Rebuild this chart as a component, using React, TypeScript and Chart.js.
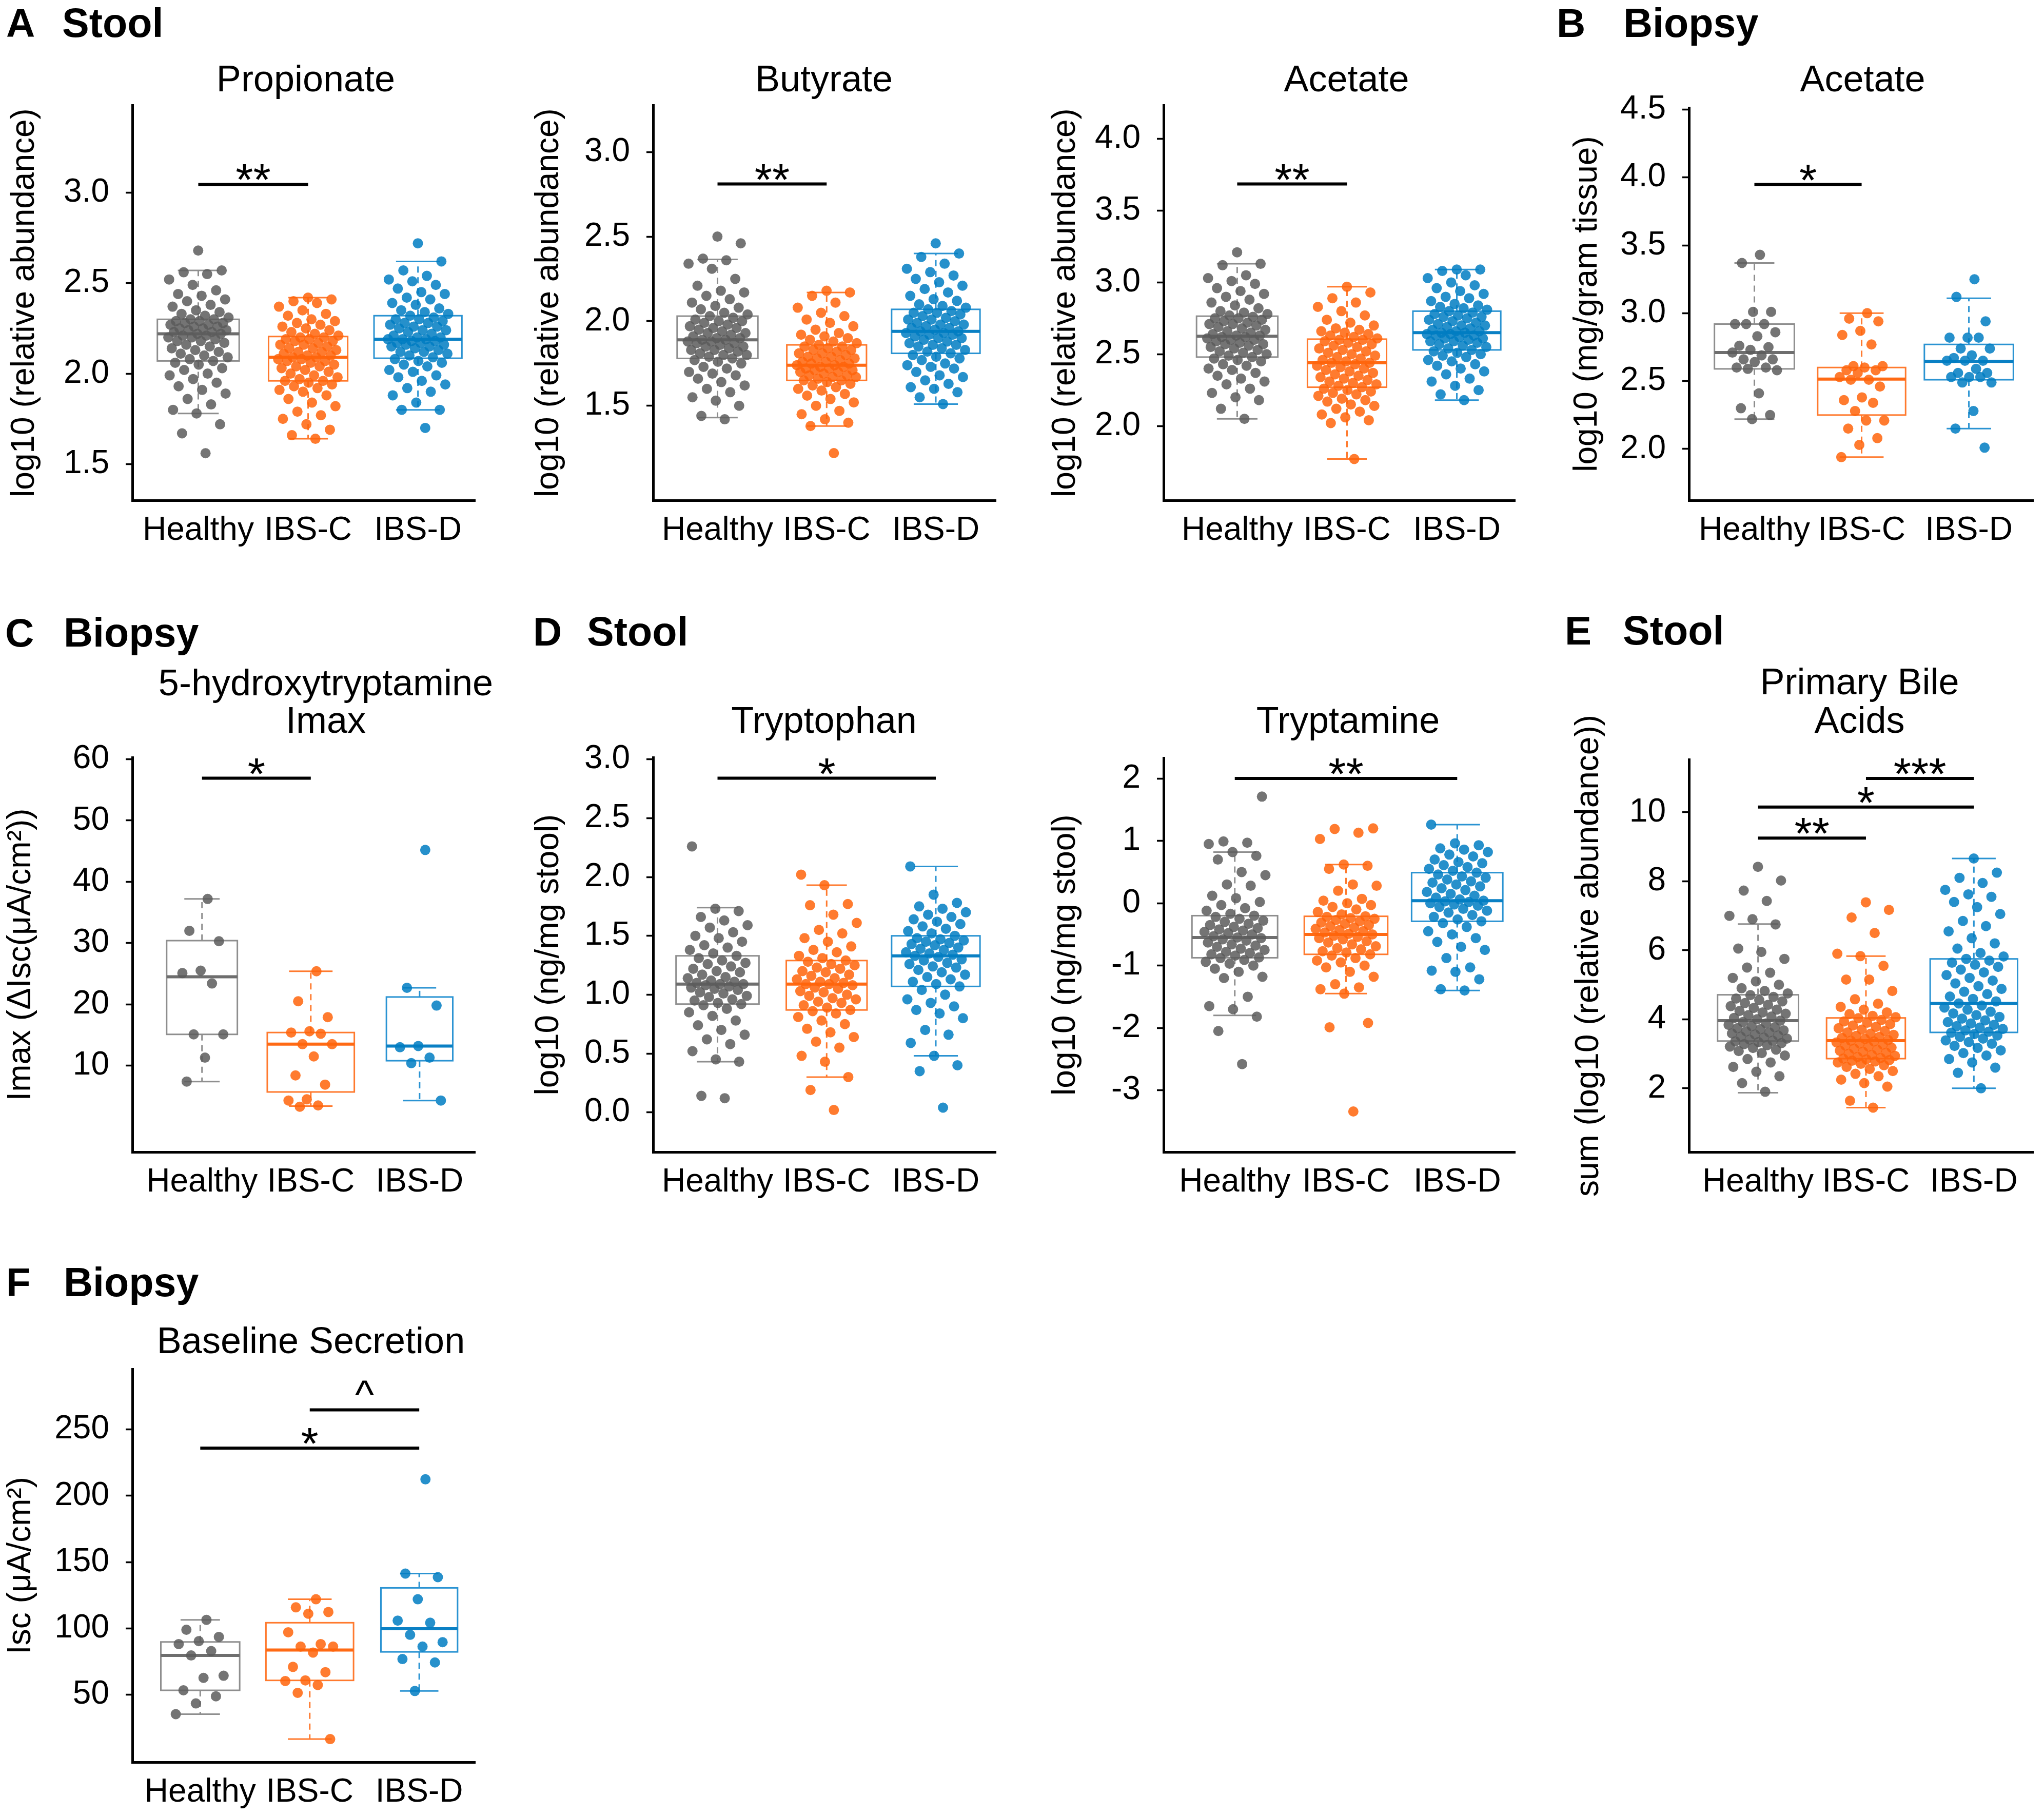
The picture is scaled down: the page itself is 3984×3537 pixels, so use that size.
import React, { useEffect, useRef } from 'react';
import { Chart, registerables } from 'chart.js';

Chart.register(...registerables);

const FONT = '"Liberation Sans", Arial, Helvetica, sans-serif';
Chart.defaults.font.family = FONT;
Chart.defaults.color = '#000';

// ---------------- DATA ----------------
const GROUPS = ['Healthy', 'IBS-C', 'IBS-D'];

// A: Propionate (stool)
const propH = [1.56, 1.67, 1.72, 1.78, 1.80, 1.83, 1.86, 1.89, 1.91, 1.93, 1.95, 1.97, 1.99, 2.00, 2.02, 2.03, 2.05, 2.06,
  2.07, 2.08, 2.09, 2.10, 2.11, 2.12, 2.13, 2.14, 2.15, 2.16, 2.17, 2.18, 2.18, 2.19, 2.20, 2.20, 2.21, 2.21, 2.22, 2.22, 2.23, 2.23, 2.24, 2.24, 2.25, 2.25, 2.26, 2.26, 2.27, 2.27, 2.28, 2.28, 2.29, 2.29, 2.30, 2.30,
  2.31, 2.32, 2.33, 2.34, 2.35, 2.37, 2.38, 2.40, 2.41, 2.43, 2.44, 2.46, 2.49, 2.52, 2.55, 2.56, 2.57, 2.68];
const propC = [1.64, 1.66, 1.69, 1.72, 1.75, 1.77, 1.79, 1.82, 1.84, 1.86, 1.88, 1.90, 1.91, 1.92, 1.93, 1.94, 1.95, 1.96,
  1.96, 1.97, 1.98, 1.99, 2.00, 2.01, 2.02, 2.03, 2.04, 2.04, 2.05, 2.06, 2.07, 2.07, 2.08, 2.08, 2.09, 2.09, 2.10, 2.10, 2.11, 2.12, 2.12, 2.13, 2.14, 2.14, 2.15, 2.16, 2.16, 2.17, 2.18, 2.18, 2.19, 2.19, 2.20, 2.20,
  2.21, 2.22, 2.23, 2.24, 2.25, 2.26, 2.27, 2.28, 2.29, 2.30, 2.32, 2.33, 2.35, 2.37, 2.39, 2.40, 2.41, 2.42];
const propD = [1.70, 1.80, 1.80, 1.84, 1.88, 1.90, 1.92, 1.94, 1.96, 1.98, 1.99, 2.01, 2.02, 2.04, 2.05, 2.06, 2.07, 2.08,
  2.09, 2.10, 2.11, 2.12, 2.12, 2.13, 2.14, 2.15, 2.15, 2.16, 2.16, 2.17, 2.17, 2.18, 2.18, 2.19, 2.19, 2.19, 2.20, 2.20, 2.21, 2.22, 2.23, 2.24, 2.24, 2.25, 2.26, 2.26, 2.27, 2.28, 2.28, 2.29, 2.30, 2.30, 2.31, 2.32,
  2.33, 2.34, 2.35, 2.36, 2.38, 2.39, 2.41, 2.42, 2.44, 2.45, 2.47, 2.49, 2.51, 2.52, 2.54, 2.57, 2.62, 2.72];
const propStats = [[1.78, 2.07, 2.22, 2.30, 2.57], [1.64, 1.96, 2.09, 2.205, 2.42], [1.80, 2.085, 2.19, 2.32, 2.62]];
const propTicks = [1.5, 2.0, 2.5, 3.0];
const propTickLabels = ['1.5', '2.0', '2.5', '3.0'];
const propSig = [[1, 2, 3.045, '**']];

// A: Butyrate (stool)
const butH = [1.42, 1.44, 1.50, 1.53, 1.55, 1.58, 1.60, 1.62, 1.64, 1.66, 1.68, 1.69, 1.70, 1.72, 1.73, 1.75, 1.76, 1.77,
  1.78, 1.79, 1.80, 1.80, 1.81, 1.82, 1.83, 1.83, 1.84, 1.85, 1.85, 1.86, 1.87, 1.87, 1.88, 1.88, 1.89, 1.89, 1.90, 1.90, 1.91, 1.92, 1.93, 1.93, 1.94, 1.95, 1.96, 1.96, 1.97, 1.98, 1.99, 2.00, 2.00, 2.01, 2.02, 2.03,
  2.04, 2.05, 2.07, 2.08, 2.09, 2.11, 2.13, 2.15, 2.17, 2.18, 2.21, 2.25, 2.31, 2.34, 2.36, 2.37, 2.46, 2.50];
const butC = [1.22, 1.38, 1.40, 1.42, 1.45, 1.47, 1.50, 1.52, 1.54, 1.56, 1.57, 1.59, 1.60, 1.61, 1.62, 1.63, 1.64, 1.65,
  1.65, 1.66, 1.67, 1.67, 1.68, 1.68, 1.69, 1.70, 1.70, 1.71, 1.71, 1.72, 1.72, 1.73, 1.73, 1.74, 1.74, 1.75, 1.75, 1.76, 1.76, 1.77, 1.78, 1.78, 1.79, 1.79, 1.80, 1.81, 1.81, 1.82, 1.83, 1.83, 1.84, 1.85, 1.85, 1.86,
  1.87, 1.88, 1.89, 1.90, 1.91, 1.92, 1.93, 1.95, 1.97, 1.99, 2.01, 2.03, 2.05, 2.08, 2.11, 2.15, 2.17, 2.18];
const butD = [1.51, 1.55, 1.58, 1.60, 1.61, 1.63, 1.65, 1.67, 1.68, 1.70, 1.72, 1.73, 1.74, 1.75, 1.77, 1.78, 1.79, 1.80,
  1.81, 1.82, 1.83, 1.84, 1.85, 1.86, 1.86, 1.87, 1.88, 1.89, 1.90, 1.90, 1.91, 1.92, 1.92, 1.93, 1.93, 1.94, 1.94, 1.95, 1.96, 1.96, 1.97, 1.98, 1.98, 1.99, 2.00, 2.01, 2.01, 2.02, 2.03, 2.04, 2.05, 2.05, 2.06, 2.07,
  2.08, 2.09, 2.10, 2.12, 2.13, 2.15, 2.17, 2.19, 2.21, 2.23, 2.25, 2.27, 2.29, 2.31, 2.34, 2.38, 2.40, 2.46];
const butStats = [[1.43, 1.78, 1.89, 2.03, 2.365], [1.38, 1.65, 1.74, 1.86, 2.17], [1.51, 1.81, 1.94, 2.07, 2.40]];
const butTicks = [1.5, 2.0, 2.5, 3.0];
const butTickLabels = ['1.5', '2.0', '2.5', '3.0'];
const butSig = [[1, 2, 2.811, '**']];

// A: Acetate (stool)
const aceH = [2.05, 2.12, 2.18, 2.20, 2.23, 2.26, 2.29, 2.31, 2.33, 2.35, 2.37, 2.39, 2.40, 2.42, 2.43, 2.45, 2.46, 2.47,
  2.48, 2.49, 2.50, 2.51, 2.52, 2.53, 2.54, 2.55, 2.56, 2.57, 2.57, 2.58, 2.59, 2.60, 2.60, 2.61, 2.62, 2.62, 2.63, 2.63, 2.64, 2.65, 2.66, 2.67, 2.68, 2.69, 2.70, 2.71, 2.71, 2.72, 2.73, 2.74, 2.75, 2.75, 2.76, 2.77,
  2.78, 2.79, 2.80, 2.82, 2.84, 2.86, 2.88, 2.90, 2.92, 2.94, 2.96, 2.99, 3.01, 3.03, 3.05, 3.12, 3.13, 3.21];
const aceC = [1.77, 2.02, 2.04, 2.06, 2.08, 2.10, 2.12, 2.14, 2.15, 2.17, 2.18, 2.19, 2.21, 2.22, 2.23, 2.24, 2.25, 2.26,
  2.27, 2.28, 2.29, 2.30, 2.31, 2.32, 2.33, 2.34, 2.35, 2.36, 2.37, 2.38, 2.39, 2.40, 2.41, 2.42, 2.43, 2.44, 2.44, 2.45, 2.46, 2.47, 2.48, 2.49, 2.50, 2.51, 2.52, 2.53, 2.54, 2.55, 2.56, 2.57, 2.58, 2.59, 2.60, 2.60,
  2.61, 2.62, 2.63, 2.64, 2.65, 2.66, 2.67, 2.68, 2.70, 2.72, 2.74, 2.77, 2.80, 2.83, 2.86, 2.89, 2.93, 2.97];
const aceD = [2.18, 2.22, 2.25, 2.28, 2.31, 2.33, 2.36, 2.38, 2.40, 2.42, 2.43, 2.45, 2.46, 2.48, 2.49, 2.50, 2.51, 2.52,
  2.53, 2.54, 2.55, 2.56, 2.57, 2.58, 2.59, 2.59, 2.60, 2.61, 2.61, 2.62, 2.63, 2.63, 2.64, 2.64, 2.65, 2.65, 2.66, 2.66, 2.67, 2.68, 2.69, 2.70, 2.70, 2.71, 2.72, 2.73, 2.74, 2.75, 2.76, 2.76, 2.77, 2.78, 2.79, 2.80,
  2.81, 2.82, 2.83, 2.84, 2.85, 2.87, 2.89, 2.90, 2.92, 2.94, 2.96, 2.98, 3.00, 3.03, 3.05, 3.08, 3.09, 3.09];
const aceStats = [[2.05, 2.48, 2.625, 2.765, 3.13], [1.77, 2.27, 2.44, 2.605, 2.97], [2.18, 2.53, 2.65, 2.80, 3.09]];
const aceTicks = [2.0, 2.5, 3.0, 3.5, 4.0];
const aceTickLabels = ['2.0', '2.5', '3.0', '3.5', '4.0'];
const aceSig = [[1, 2, 3.686, '**']];

// B: Acetate (biopsy)
const bAceH = [3.43, 3.37, 3.01, 3.01, 2.92, 2.92, 2.92, 2.86, 2.83, 2.76, 2.75, 2.73, 2.71, 2.69, 2.66, 2.66, 2.64, 2.60, 2.60, 2.59, 2.58, 2.41, 2.30, 2.25, 2.22];
const bAceC = [3.00, 2.96, 2.94, 2.87, 2.84, 2.77, 2.61, 2.61, 2.60, 2.58, 2.58, 2.56, 2.53, 2.51, 2.51, 2.46, 2.38, 2.36, 2.34, 2.28, 2.21, 2.21, 2.15, 2.08, 2.03, 1.94];
const bAceD = [3.25, 3.12, 2.94, 2.82, 2.82, 2.82, 2.74, 2.74, 2.69, 2.67, 2.65, 2.65, 2.65, 2.59, 2.56, 2.56, 2.53, 2.53, 2.53, 2.49, 2.49, 2.28, 2.15, 2.01];
const bAceStats = [[2.22, 2.59, 2.71, 2.92, 3.37], [1.94, 2.25, 2.515, 2.60, 3.00], [2.15, 2.51, 2.645, 2.77, 3.11]];
const bAceTicks = [2.0, 2.5, 3.0, 3.5, 4.0, 4.5];
const bAceTickLabels = ['2.0', '2.5', '3.0', '3.5', '4.0', '4.5'];
const bAceSig = [[1, 2, 3.948, '*']];

// C: 5-hydroxytryptamine Imax (biopsy)
const imaxH = [37.2, 32.0, 30.3, 25.5, 25.1, 23.4, 15.1, 15.1, 11.3, 7.4];
const imaxC = [25.4, 20.5, 17.9, 15.6, 15.4, 15.2, 13.5, 13.5, 11.5, 8.4, 6.9, 4.5, 4.3, 3.5, 3.3];
const imaxD = [45.2, 22.7, 19.8, 13.2, 13.0, 11.3, 10.4, 4.3];
const imaxStats = [[7.4, 15.1, 24.5, 30.4, 37.2], [3.4, 5.7, 13.5, 15.4, 25.4], [4.3, 10.8, 13.2, 21.2, 22.7]];
const imaxTicks = [10, 20, 30, 40, 50, 60];
const imaxTickLabels = ['10', '20', '30', '40', '50', '60'];
const imaxSig = [[1, 2, 56.9, '*']];

// D: Tryptophan (stool)
const trpH = [0.12, 0.14, 0.43, 0.45, 0.52, 0.58, 0.62, 0.66, 0.70, 0.74, 0.78, 0.82, 0.85, 0.88, 0.91,
  0.92, 0.93, 0.95, 0.96, 0.98, 0.99, 1.01, 1.02, 1.04, 1.05, 1.06, 1.07, 1.08, 1.09, 1.09, 1.10, 1.11, 1.12, 1.14, 1.15, 1.17, 1.19, 1.20, 1.22, 1.24, 1.26, 1.27, 1.29, 1.31, 1.33,
  1.35, 1.38, 1.40, 1.42, 1.45, 1.48, 1.50, 1.53, 1.57, 1.59, 1.63, 1.66, 1.71, 1.73, 2.26];
const trpC = [0.02, 0.19, 0.30, 0.43, 0.48, 0.55, 0.60, 0.64, 0.68, 0.71, 0.75, 0.78, 0.81, 0.84, 0.86,
  0.87, 0.89, 0.91, 0.93, 0.94, 0.96, 0.97, 0.99, 1.00, 1.02, 1.03, 1.05, 1.06, 1.08, 1.09, 1.09, 1.10, 1.11, 1.13, 1.14, 1.16, 1.17, 1.19, 1.20, 1.22, 1.23, 1.25, 1.26, 1.28, 1.29,
  1.31, 1.33, 1.36, 1.38, 1.41, 1.45, 1.48, 1.52, 1.55, 1.61, 1.68, 1.76, 1.77, 1.93, 2.02];
const trpD = [0.04, 0.35, 0.40, 0.48, 0.59, 0.66, 0.70, 0.80, 0.84, 0.87, 0.90, 0.93, 0.96, 1.00, 1.04,
  1.07, 1.09, 1.11, 1.13, 1.15, 1.17, 1.19, 1.21, 1.23, 1.24, 1.26, 1.27, 1.29, 1.30, 1.32, 1.33, 1.34, 1.35, 1.36, 1.38, 1.39, 1.40, 1.42, 1.43, 1.44, 1.45, 1.46, 1.47, 1.48, 1.50,
  1.52, 1.54, 1.56, 1.58, 1.60, 1.62, 1.64, 1.66, 1.68, 1.70, 1.73, 1.75, 1.78, 1.85, 2.09];
const trpStats = [[0.43, 0.92, 1.09, 1.33, 1.74], [0.30, 0.87, 1.09, 1.29, 1.93], [0.48, 1.07, 1.33, 1.50, 2.09]];
const trpTicks = [0, 0.5, 1.0, 1.5, 2.0, 2.5, 3.0];
const trpTickLabels = ['0.0', '0.5', '1.0', '1.5', '2.0', '2.5', '3.0'];
const trpSig = [[1, 3, 2.839, '*']];

// D: Tryptamine (stool)
const tamH = [-2.58, -2.05, -1.82, -1.70, -1.65, -1.50, -1.20, -1.18, -1.10, -1.05, -1.00, -0.97, -0.94, -0.91, -0.88,
  -0.87, -0.84, -0.82, -0.80, -0.78, -0.75, -0.73, -0.70, -0.68, -0.66, -0.63, -0.60, -0.58, -0.56, -0.55, -0.53, -0.50, -0.48, -0.46, -0.44, -0.42, -0.40, -0.38, -0.35, -0.33, -0.30, -0.28, -0.25, -0.22, -0.20,
  -0.17, -0.12, -0.08, -0.03, 0.02, 0.08, 0.12, 0.28, 0.30, 0.45, 0.50, 0.70, 0.76, 0.82, 0.95, 0.97, 0.99, 1.71];
const tamC = [-3.34, -1.99, -1.92, -1.45, -1.38, -1.35, -1.30, -1.18, -1.10, -1.03, -1.00, -0.95, -0.92, -0.88, -0.84,
  -0.82, -0.79, -0.77, -0.74, -0.72, -0.69, -0.66, -0.63, -0.61, -0.58, -0.56, -0.54, -0.52, -0.50, -0.49, -0.47, -0.45, -0.43, -0.41, -0.39, -0.37, -0.35, -0.33, -0.31, -0.29, -0.27, -0.25, -0.24, -0.22, -0.21,
  -0.18, -0.14, -0.10, -0.06, -0.03, 0.00, 0.04, 0.07, 0.20, 0.28, 0.30, 0.55, 0.60, 0.62, 1.03, 1.13, 1.19, 1.20];
const tamD = [-1.40, -1.38, -1.22, -1.10, -1.08, -1.03, -0.88, -0.75, -0.70, -0.62, -0.56, -0.50, -0.45, -0.38, -0.32,
  -0.29, -0.26, -0.22, -0.19, -0.15, -0.12, -0.09, -0.06, -0.04, -0.02, 0.00, 0.02, 0.03, 0.04, 0.06, 0.09, 0.12, 0.15, 0.18, 0.21, 0.24, 0.27, 0.30, 0.33, 0.35, 0.38, 0.41, 0.43, 0.46, 0.49,
  0.52, 0.55, 0.58, 0.61, 0.64, 0.66, 0.70, 0.75, 0.78, 0.82, 0.86, 0.88, 0.93, 0.96, 1.26];
const tamStats = [[-1.80, -0.875, -0.55, -0.20, 0.82], [-1.45, -0.82, -0.50, -0.21, 0.62], [-1.40, -0.29, 0.04, 0.49, 1.26]];
const tamTicks = [-3, -2, -1, 0, 1, 2];
const tamTickLabels = ['-3', '-2', '-1', '0', '1', '2'];
const tamSig = [[1, 3, 2.0, '**']];

// E: Primary Bile Acids (stool)
const bileH = [1.90, 2.15, 2.35, 2.48, 2.62, 2.75, 2.85, 2.95, 3.02, 3.08, 3.12, 3.17, 3.21, 3.25, 3.28, 3.31, 3.34, 3.36,
  3.38, 3.41, 3.44, 3.47, 3.50, 3.53, 3.56, 3.59, 3.62, 3.65, 3.68, 3.71, 3.74, 3.77, 3.80, 3.84, 3.88, 3.92, 3.96, 4.00, 4.04, 4.08, 4.12, 4.16, 4.20, 4.24, 4.28, 4.33, 4.38, 4.42, 4.47, 4.52, 4.56, 4.60, 4.65, 4.70,
  4.75, 4.82, 4.90, 5.00, 5.10, 5.20, 5.35, 5.50, 5.75, 5.95, 6.05, 6.75, 6.90, 7.00, 7.43, 7.73, 8.02, 8.42];
const bileC = [1.44, 1.64, 2.05, 2.15, 2.25, 2.35, 2.42, 2.50, 2.56, 2.62, 2.67, 2.71, 2.75, 2.78, 2.80, 2.82, 2.84, 2.86,
  2.88, 2.91, 2.94, 2.97, 3.00, 3.03, 3.06, 3.09, 3.12, 3.15, 3.18, 3.21, 3.24, 3.27, 3.30, 3.33, 3.36, 3.38, 3.40, 3.43, 3.46, 3.49, 3.52, 3.55, 3.58, 3.62, 3.66, 3.70, 3.74, 3.78, 3.82, 3.86, 3.90, 3.94, 3.98, 4.03,
  4.06, 4.10, 4.15, 4.20, 4.28, 4.36, 4.45, 4.58, 4.82, 5.15, 5.15, 5.55, 5.83, 5.90, 6.50, 6.95, 7.17, 7.39];
const bileD = [2.00, 2.45, 2.60, 2.75, 2.85, 2.95, 3.02, 3.10, 3.17, 3.23, 3.29, 3.34, 3.39, 3.44, 3.49, 3.53, 3.57, 3.61,
  3.64, 3.68, 3.72, 3.76, 3.80, 3.84, 3.88, 3.92, 3.97, 4.02, 4.07, 4.12, 4.17, 4.22, 4.28, 4.34, 4.40, 4.46, 4.52, 4.59, 4.66, 4.73, 4.80, 4.88, 4.96, 5.04, 5.12, 5.20, 5.28, 5.36, 5.44, 5.52, 5.58, 5.64, 5.70, 5.75,
  5.82, 5.92, 6.05, 6.20, 6.35, 6.55, 6.70, 6.85, 7.05, 7.25, 7.40, 7.55, 7.62, 7.75, 7.95, 8.10, 8.25, 8.66];
const bileStats = [[1.87, 3.37, 3.96, 4.71, 6.76], [1.44, 2.86, 3.38, 4.04, 5.83], [2.0, 3.62, 4.46, 5.75, 8.66]];
const bileTicks = [2, 4, 6, 8, 10];
const bileTickLabels = ['2', '4', '6', '8', '10'];
const bileSig = [[1, 2, 9.25, '**'], [1, 3, 10.15, '*'], [2, 3, 10.98, '***']];

// F: Baseline Secretion (biopsy)
const iscH = [106.4, 98.9, 93.5, 90.3, 88.1, 82.8, 79.5, 64.2, 62.6, 53.2, 48.7, 43.3, 35.2];
const iscC = [121.9, 115.8, 112.3, 111.0, 97.0, 88.1, 86.2, 86.2, 81.7, 70.9, 66.9, 60.7, 60.2, 57.2, 51.3, 16.4];
const iscD = [212.4, 141.3, 138.6, 121.9, 105.8, 104.2, 95.1, 89.5, 86.2, 76.8, 74.2, 52.7];
const iscStats = [[35.2, 53.2, 79.5, 89.7, 106.4], [16.4, 60.7, 83.6, 104.2, 121.9], [52.7, 82.2, 99.7, 130.5, 141.3]];
const iscTicks = [50, 100, 150, 200, 250];
const iscTickLabels = ['50', '100', '150', '200', '250'];
const iscSig = [[1, 3, 236, '*'], [2, 3, 264.8, '^']];

// ---------------- STYLE / LAYOUT ----------------
const POINT_COLORS = ['rgba(92,92,92,0.85)', 'rgba(255,100,10,0.85)', 'rgba(0,124,194,0.85)'];
const BOX_COLORS = ['#8e8e8e', '#ff7a2e', '#2a93d2'];
const MEDIAN_COLORS = ['#6e6e6e', '#ff6a14', '#0a80c4'];

const AXW = 255;
const TOPPAD = 200;
const XAXH = 110;
const RPAD = 60;
const TICK_FONT = 64;
const YTITLE_FONT = 64;
const TITLE_FONT = 72;
const POINT_R = 10;

type PanelCfg = {
  key: string;
  plot: number[];
  x: number[];
  y: number[];
  ticks: number[];
  tickLabels: string[];
  yTitle: string;
  yTitleGap: number;
  title: string[];
  titleY: number[];
  titleDx: number;
  groups: number[][];
  stats: number[][];
  widths: number[];
  sig: any[][];
  jitter: number;
};

const PANELS: PanelCfg[] = [
  { key: 'prop', plot: [258, 205, 926, 975], x: [0.40, 3.52], y: [1.30, 3.483], ticks: propTicks, tickLabels: propTickLabels,
    yTitle: 'log10 (relative abundance)', yTitleGap: 210, title: ['Propionate'], titleY: [178], titleDx: 4,
    groups: [propH, propC, propD], stats: propStats, widths: [0.745, 0.72, 0.80], sig: propSig, jitter: 0.28 },
  { key: 'but', plot: [1273, 205, 1941, 975], x: [0.41, 3.55], y: [0.941, 3.277], ticks: butTicks, tickLabels: butTickLabels,
    yTitle: 'log10 (relative abundance)', yTitleGap: 203, title: ['Butyrate'], titleY: [178], titleDx: -1,
    groups: [butH, butC, butD], stats: butStats, widths: [0.74, 0.73, 0.81], sig: butSig, jitter: 0.28 },
  { key: 'ace', plot: [2268, 205, 2953, 975], x: [0.33, 3.53], y: [1.482, 4.235], ticks: aceTicks, tickLabels: aceTickLabels,
    yTitle: 'log10 (relative abundance)', yTitleGap: 191, title: ['Acetate'], titleY: [178], titleDx: 14,
    groups: [aceH, aceC, aceD], stats: aceStats, widths: [0.74, 0.72, 0.80], sig: aceSig, jitter: 0.28 },
  { key: 'bace', plot: [3292, 210, 3963, 975], x: [0.39, 3.60], y: [1.622, 4.513], ticks: bAceTicks, tickLabels: bAceTickLabels,
    yTitle: 'log10 (mg/gram tissue)', yTitleGap: 198, title: ['Acetate'], titleY: [178], titleDx: 3,
    groups: [bAceH, bAceC, bAceD], stats: bAceStats, widths: [0.745, 0.82, 0.83], sig: bAceSig, jitter: 0.22 },
  { key: 'imax', plot: [258, 1476, 926, 2245], x: [0.36, 3.51], y: [-4.1, 60.3], ticks: imaxTicks, tickLabels: imaxTickLabels,
    yTitle: 'Imax (\u0394Isc(\u03bcA/cm\u00b2))', yTitleGap: 217, title: ['5-hydroxytryptamine', 'Imax'], titleY: [1355, 1428], titleDx: 43,
    groups: [imaxH, imaxC, imaxD], stats: imaxStats, widths: [0.65, 0.80, 0.61], sig: imaxSig, jitter: 0.22 },
  { key: 'trp', plot: [1273, 1476, 1941, 2245], x: [0.41, 3.55], y: [-0.337, 3.016], ticks: trpTicks, tickLabels: trpTickLabels,
    yTitle: 'log10 (ng/mg stool)', yTitleGap: 203, title: ['Tryptophan'], titleY: [1428], titleDx: -1,
    groups: [trpH, trpC, trpD], stats: trpStats, widths: [0.76, 0.74, 0.81], sig: trpSig, jitter: 0.28 },
  { key: 'tam', plot: [2268, 1477, 2953, 2245], x: [0.36, 3.52], y: [-3.99, 2.33], ticks: tamTicks, tickLabels: tamTickLabels,
    yTitle: 'log10 (ng/mg stool)', yTitleGap: 191, title: ['Tryptamine'], titleY: [1428], titleDx: 17,
    groups: [tamH, tamC, tamD], stats: tamStats, widths: [0.77, 0.75, 0.82], sig: tamSig, jitter: 0.28 },
  { key: 'bile', plot: [3292, 1480, 3963, 2245], x: [0.36, 3.55], y: [0.154, 11.53], ticks: bileTicks, tickLabels: bileTickLabels,
    yTitle: 'sum (log10 (relative abundance))', yTitleGap: 195, title: ['Primary Bile', 'Acids'], titleY: [1353, 1428], titleDx: -3,
    groups: [bileH, bileC, bileD], stats: bileStats, widths: [0.75, 0.73, 0.81], sig: bileSig, jitter: 0.28 },
  { key: 'isc', plot: [258, 2668, 926, 3434], x: [0.38, 3.51], y: [-1.0, 295.6], ticks: iscTicks, tickLabels: iscTickLabels,
    yTitle: 'Isc (\u03bcA/cm\u00b2)', yTitleGap: 217, title: ['Baseline Secretion'], titleY: [2637], titleDx: 14,
    groups: [iscH, iscC, iscD], stats: iscStats, widths: [0.72, 0.80, 0.70], sig: iscSig, jitter: 0.24 },
];

const HEADINGS = [
  { letter: 'A', lx: 12, word: 'Stool', wx: 121, base: 72 },
  { letter: 'B', lx: 3034, word: 'Biopsy', wx: 3164, base: 72 },
  { letter: 'C', lx: 10, word: 'Biopsy', wx: 124, base: 1260 },
  { letter: 'D', lx: 1039, word: 'Stool', wx: 1144, base: 1258 },
  { letter: 'E', lx: 3050, word: 'Stool', wx: 3163, base: 1256 },
  { letter: 'F', lx: 12, word: 'Biopsy', wx: 124, base: 2526 },
];

// deterministic horizontal spread of points (layout only)
const jitterOffset = (i: number, amp: number) => ((((i + 1) * 0.6180339887) % 1) - 0.5) * 2 * amp;

function makePlugin(p: PanelCfg, cy: number) {
  const line = (ctx: CanvasRenderingContext2D, x1: number, y1: number, x2: number, y2: number) => {
    ctx.beginPath();
    ctx.moveTo(x1, y1);
    ctx.lineTo(x2, y2);
    ctx.stroke();
  };
  return {
    id: 'boxes_' + p.key,
    beforeDatasetsDraw(chart: any) {
      const ctx: CanvasRenderingContext2D = chart.ctx;
      const xs = chart.scales.x;
      const ys = chart.scales.y;
      p.stats.forEach((s, g) => {
        const [lo, q1, med, q3, hi] = s;
        const c = g + 1;
        const w = p.widths[g];
        const xl = xs.getPixelForValue(c - w / 2);
        const xr = xs.getPixelForValue(c + w / 2);
        const xc = xs.getPixelForValue(c);
        const cl = xs.getPixelForValue(c - w / 4);
        const cr = xs.getPixelForValue(c + w / 4);
        const yLo = ys.getPixelForValue(lo);
        const yQ1 = ys.getPixelForValue(q1);
        const yMed = ys.getPixelForValue(med);
        const yQ3 = ys.getPixelForValue(q3);
        const yHi = ys.getPixelForValue(hi);
        ctx.save();
        ctx.strokeStyle = BOX_COLORS[g];
        ctx.lineWidth = 3;
        ctx.setLineDash([12, 9]);
        line(ctx, xc, yQ3, xc, yHi);
        line(ctx, xc, yQ1, xc, yLo);
        ctx.setLineDash([]);
        line(ctx, cl, yHi, cr, yHi);
        line(ctx, cl, yLo, cr, yLo);
        ctx.strokeRect(xl, yQ3, xr - xl, yQ1 - yQ3);
        ctx.strokeStyle = MEDIAN_COLORS[g];
        ctx.lineWidth = 6;
        line(ctx, xl, yMed, xr, yMed);
        ctx.restore();
      });
    },
    afterDraw(chart: any) {
      const ctx: CanvasRenderingContext2D = chart.ctx;
      const xs = chart.scales.x;
      const ys = chart.scales.y;
      const ca = chart.chartArea;
      ctx.save();
      p.sig.forEach((sg) => {
        const [a, b, yv, label] = sg;
        const x1 = xs.getPixelForValue(a);
        const x2 = xs.getPixelForValue(b);
        const y = ys.getPixelForValue(yv);
        ctx.strokeStyle = '#000';
        ctx.lineWidth = 6;
        ctx.beginPath();
        ctx.moveTo(x1, y);
        ctx.lineTo(x2, y);
        ctx.stroke();
        ctx.fillStyle = '#000';
        ctx.textAlign = 'center';
        ctx.textBaseline = 'alphabetic';
        if (label === '^') {
          ctx.font = `80px ${FONT}`;
          ctx.fillText(label, (x1 + x2) / 2, y - 3);
        } else {
          ctx.font = `88px ${FONT}`;
          ctx.fillText(label, (x1 + x2) / 2, y + 21);
        }
      });
      ctx.fillStyle = '#000';
      ctx.font = `${TITLE_FONT}px ${FONT}`;
      ctx.textAlign = 'center';
      ctx.textBaseline = 'alphabetic';
      const tx = (ca.left + ca.right) / 2 + p.titleDx;
      p.title.forEach((t, i) => ctx.fillText(t, tx, p.titleY[i] - cy));
      ctx.restore();
    },
  };
}

function ChartPanel({ p }: { p: PanelCfg }) {
  const ref = useRef<HTMLCanvasElement>(null);
  const [L, T, R, B] = p.plot;
  const cx = L - AXW;
  const cy = T - TOPPAD;
  const cw = R - L + AXW + RPAD;
  const ch = B - T + TOPPAD + XAXH;

  useEffect(() => {
    if (!ref.current) return;
    const datasets = p.groups.map((vals, g) => ({
      label: GROUPS[g],
      data: vals.map((v, i) => ({ x: g + 1 + jitterOffset(i, p.jitter), y: v })),
      backgroundColor: POINT_COLORS[g],
      borderWidth: 0,
      pointBorderWidth: 0,
      pointRadius: POINT_R,
      pointHoverRadius: POINT_R,
    }));
    const chart = new Chart(ref.current, {
      type: 'scatter',
      data: { datasets },
      options: {
        animation: false,
        responsive: false,
        devicePixelRatio: 1,
        events: [],
        layout: { padding: { top: TOPPAD, right: RPAD, left: 0, bottom: 0 } },
        plugins: {
          legend: { display: false },
          tooltip: { enabled: false },
          title: { display: false },
        },
        scales: {
          x: {
            type: 'linear',
            min: p.x[0],
            max: p.x[1],
            bounds: 'data',
            afterBuildTicks: (s: any) => {
              s.ticks = [1, 2, 3].map((v) => ({ value: v }));
            },
            afterFit: (s: any) => {
              s.height = XAXH;
            },
            ticks: {
              callback: (v: any) => GROUPS[Math.round(Number(v)) - 1] ?? '',
              font: { size: TICK_FONT },
              color: '#000',
              padding: 21,
              autoSkip: false,
              maxRotation: 0,
              minRotation: 0,
            },
            grid: { display: false, drawTicks: false, tickLength: 0 },
            border: { display: true, color: '#000', width: 5 },
          },
          y: {
            type: 'linear',
            min: p.y[0],
            max: p.y[1],
            bounds: 'data',
            afterBuildTicks: (s: any) => {
              s.ticks = p.ticks.map((v) => ({ value: v }));
            },
            afterFit: (s: any) => {
              s.width = AXW;
            },
            ticks: {
              callback: (_v: any, i: number) => p.tickLabels[i],
              font: { size: TICK_FONT },
              color: '#000',
              padding: 32,
              autoSkip: false,
            },
            grid: {
              display: true,
              drawOnChartArea: false,
              drawTicks: true,
              tickLength: 13,
              tickWidth: 3.5,
              tickColor: '#000',
            },
            border: { display: true, color: '#000', width: 5 },
            title: {
              display: true,
              text: p.yTitle,
              font: { size: YTITLE_FONT },
              color: '#000',
              padding: { top: Math.max(0, AXW - p.yTitleGap - (YTITLE_FONT * 1.2) / 2), bottom: 0 },
            },
          },
        },
      } as any,
      plugins: [makePlugin(p, cy)],
    });
    return () => chart.destroy();
  }, []);

  return (
    <canvas
      ref={ref}
      width={cw}
      height={ch}
      style={{ position: 'absolute', left: cx, top: cy, width: cw, height: ch }}
    />
  );
}

export default function App() {
  const LETTER = 78;
  const WORD = 79;
  return (
    <div
      style={{
        position: 'absolute',
        left: 0,
        top: 0,
        width: 3984,
        height: 3537,
        background: '#fff',
        overflow: 'hidden',
        fontFamily: FONT,
      }}
    >
      {PANELS.map((p) => (
        <ChartPanel key={p.key} p={p} />
      ))}
      {HEADINGS.map((h) => (
        <React.Fragment key={h.letter}>
          <div
            style={{
              position: 'absolute',
              left: h.lx,
              top: h.base - 0.8465 * LETTER,
              fontSize: LETTER,
              lineHeight: `${LETTER}px`,
              fontWeight: 'bold',
              color: '#000',
              whiteSpace: 'nowrap',
            }}
          >
            {h.letter}
          </div>
          <div
            style={{
              position: 'absolute',
              left: h.wx,
              top: h.base - 0.8465 * WORD,
              fontSize: WORD,
              lineHeight: `${WORD}px`,
              fontWeight: 'bold',
              color: '#000',
              whiteSpace: 'nowrap',
            }}
          >
            {h.word}
          </div>
        </React.Fragment>
      ))}
    </div>
  );
}
